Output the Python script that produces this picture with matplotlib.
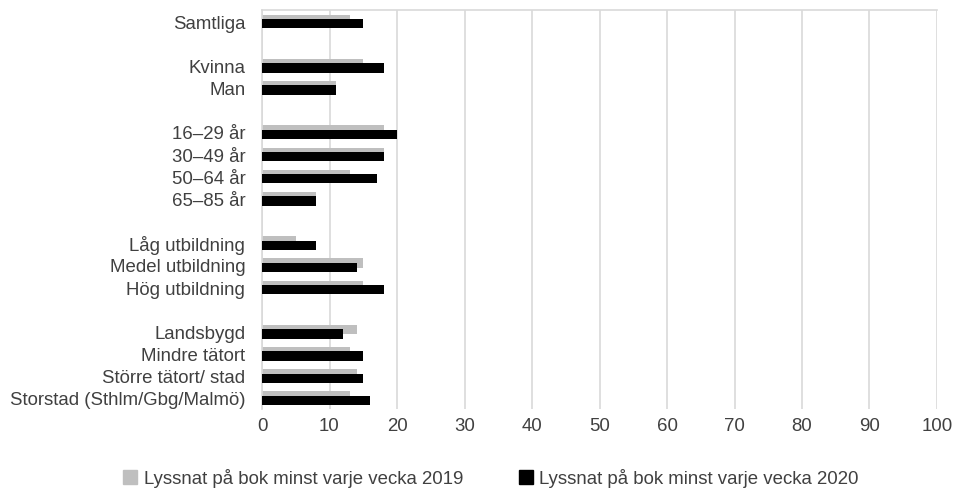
import numpy as np
import matplotlib
matplotlib.use('Agg')
import matplotlib.pyplot as plt
from matplotlib.patches import Patch

# data (None = empty spacer row)
labels = ['Samtliga', None,
          'Kvinna', 'Man', None,
          '16–29 år', '30–49 år', '50–64 år', '65–85 år', None,
          'Låg utbildning', 'Medel utbildning', 'Hög utbildning', None,
          'Landsbygd', 'Mindre tätort', 'Större tätort/ stad', 'Storstad (Sthlm/Gbg/Malmö)']
v2019 = [13, None, 15, 11, None, 18, 18, 13, 8, None, 5, 15, 15, None, 14, 13, 14, 13]
v2020 = [15, None, 18, 11, None, 20, 18, 17, 8, None, 8, 14, 18, None, 12, 15, 15, 16]
name2019 = 'Lyssnat på bok minst varje vecka 2019'
name2020 = 'Lyssnat på bok minst varje vecka 2020'

font_size = 13.4
plt.rcParams['font.family'] = ['Liberation Sans', 'DejaVu Sans']
plt.rcParams['font.size'] = font_size
txt_col = '#404040'
grid_col = '#D9D9D9'
c2019 = '#BFBFBF'
c2020 = '#000000'

fig = plt.figure(figsize=(9.54, 4.89), dpi=100)
ax = fig.add_axes([262/954, 1-410/489, (937-262)/954, (410-11)/489])

y = np.arange(len(labels))
idx = [i for i, l in enumerate(labels) if l is not None]
g = [v2019[i] for i in idx]
b = [v2020[i] for i in idx]
yy = y[idx]

bh = 0.42
ax.barh(yy - 0.08, g, height=bh, color=c2019, zorder=2)
ax.barh(yy + 0.11, b, height=bh, color=c2020, zorder=3)

ax.set_ylim(len(labels) - 0.5, -0.5)
ax.set_xlim(0, 100)
ax.set_xticks(np.arange(0, 101, 10))
ax.set_yticks(yy)
ax.set_yticklabels([labels[i] for i in idx], color=txt_col)
ax.tick_params(axis='y', length=0, pad=12)
ax.tick_params(axis='x', length=0, pad=6, colors=txt_col)
ax.xaxis.grid(True, color=grid_col, linewidth=1.2, zorder=0)
ax.set_axisbelow(True)
for s in ['right', 'bottom']:
    ax.spines[s].set_visible(False)
ax.spines['left'].set_color(grid_col)
ax.spines['left'].set_linewidth(1.2)
ax.spines['top'].set_color(grid_col)
ax.spines['top'].set_linewidth(1.2)

handles = [Patch(color=c2019, label=name2019), Patch(color=c2020, label=name2020)]
leg = fig.legend(handles=handles, loc='center', bbox_to_anchor=(491/954, 1-479/489),
                 ncol=2, frameon=False, handlelength=0.75, handleheight=0.75,
                 handletextpad=0.35, columnspacing=3.0)
for t in leg.get_texts():
    t.set_color(txt_col)

plt.savefig('out.png', dpi=100)
